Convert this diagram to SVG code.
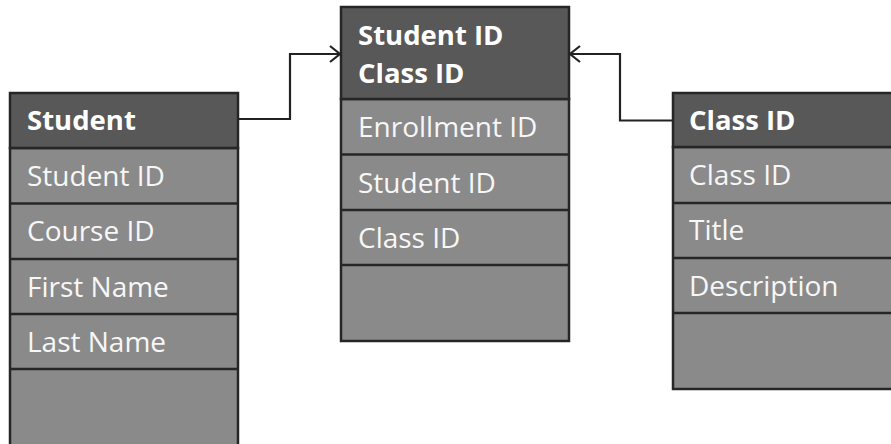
<svg xmlns="http://www.w3.org/2000/svg" width="891" height="444" viewBox="0 0 891 444">
  <style>
    .hdr { fill: #585858; stroke: #262626; stroke-width: 2.5; }
    .row { fill: #8a8a8a; stroke: #262626; stroke-width: 2.5; }
    .t { font-family: "Open Sans", "Noto Sans", "Liberation Sans", sans-serif; font-size: 28px; fill: #f7f7f7; }
    .th { font-family: "Open Sans", "Noto Sans", "Liberation Sans", sans-serif; font-size: 27.5px; font-weight: bold; fill: #ffffff; }
    .link { fill: none; stroke: #222222; stroke-width: 2.2; }
  </style>
  <defs>
    <marker id="open" markerUnits="userSpaceOnUse" markerWidth="14" markerHeight="20" refX="11" refY="9" orient="auto">
      <path d="M1,1 L11,9 L1,17" fill="none" stroke="#222222" stroke-width="2.2"/>
    </marker>
  </defs>

  <rect width="891" height="444" fill="#ffffff"/>

  <!-- Student table -->
  <g id="student">
    <rect class="row" x="10" y="148" width="228" height="310"/>
    <rect class="hdr" x="10" y="93" width="228" height="55"/>
    <line class="row" x1="10" y1="203.5" x2="238" y2="203.5"/>
    <line class="row" x1="10" y1="259" x2="238" y2="259"/>
    <line class="row" x1="10" y1="314" x2="238" y2="314"/>
    <line class="row" x1="10" y1="369" x2="238" y2="369"/>
    <text class="th" x="27" y="130">Student</text>
    <text class="t" x="27" y="186">Student ID</text>
    <text class="t" x="27" y="241">Course ID</text>
    <text class="t" x="27" y="297">First Name</text>
    <text class="t" x="27" y="352">Last Name</text>
  </g>

  <!-- Enrollment table -->
  <g id="enrollment">
    <rect class="row" x="341" y="99" width="228" height="242"/>
    <rect class="hdr" x="341" y="7" width="228" height="92"/>
    <line class="row" x1="341" y1="154.5" x2="569" y2="154.5"/>
    <line class="row" x1="341" y1="210" x2="569" y2="210"/>
    <line class="row" x1="341" y1="265" x2="569" y2="265"/>
    <text class="th" x="358" y="45">Student ID</text>
    <text class="th" x="358" y="83">Class ID</text>
    <text class="t" x="358" y="137">Enrollment ID</text>
    <text class="t" x="358" y="193">Student ID</text>
    <text class="t" x="358" y="248">Class ID</text>
  </g>

  <!-- Class table -->
  <g id="class">
    <rect class="row" x="673" y="147" width="240" height="242"/>
    <rect class="hdr" x="673" y="93" width="240" height="54"/>
    <line class="row" x1="673" y1="203" x2="900" y2="203"/>
    <line class="row" x1="673" y1="258" x2="900" y2="258"/>
    <line class="row" x1="673" y1="313" x2="900" y2="313"/>
    <text class="th" x="689" y="130">Class ID</text>
    <text class="t" x="689" y="185">Class ID</text>
    <text class="t" x="689" y="240">Title</text>
    <text class="t" x="689" y="296">Description</text>
  </g>

  <!-- Connectors -->
  <g id="connectors">
    <polyline class="link" points="239,119 290,119 290,54 340,54" marker-end="url(#open)"/>
    <polyline class="link" points="672,120.5 620,120.5 620,54 570,54" marker-end="url(#open)"/>
  </g>
</svg>
